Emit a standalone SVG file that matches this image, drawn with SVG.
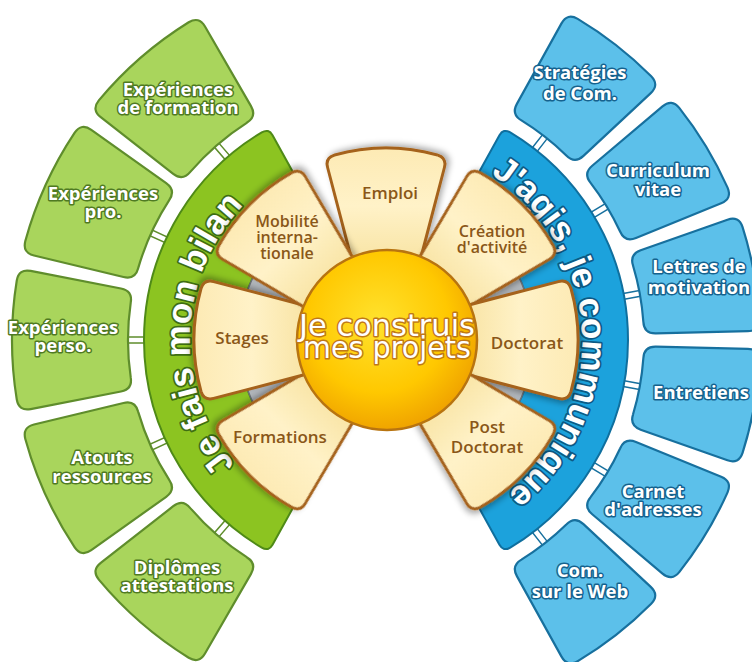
<svg xmlns="http://www.w3.org/2000/svg" width="752" height="662" viewBox="0 0 752 662">
<defs>
<style>
.gbox{fill:#a9d55c;stroke:#5f8d2c;stroke-width:2.2}
.bbox{fill:#5cc0ea;stroke:#17709e;stroke-width:2.2}
.gband{fill:#8cc421;stroke:#4f8a17;stroke-width:2}
.bband{fill:#1ca2dc;stroke:#0f6f9e;stroke-width:2}
.grey{fill:#b3b8bd;stroke:#6d7378;stroke-width:1.5}
.petal{fill:url(#gP);stroke:#a5621a;stroke-width:3;filter:url(#sh)}
.gt,.bt{font-family:"Open Sans","Liberation Sans",sans-serif;font-weight:700;font-size:18.5px;fill:#fff;stroke-width:3;paint-order:stroke;stroke-linejoin:round;text-anchor:middle}
.gt{stroke:#4f7a22}
.bt{stroke:#15628e}
.pt{font-family:"Open Sans","Liberation Sans",sans-serif;font-weight:600;font-size:17px;fill:#8a5718;text-anchor:middle}
.pts{font-size:16px}
.band-t{font-family:"Liberation Sans",Arial,sans-serif;font-weight:700;font-size:35px;fill:#fff;stroke-width:3.5;paint-order:stroke;stroke-linejoin:round}
.ct{font-family:"DejaVu Sans",sans-serif;font-size:31px;fill:#fff;stroke:#c07818;stroke-width:3;paint-order:stroke;stroke-linejoin:round;text-anchor:middle}
.tg{fill:#fff;stroke:#5f8d2c;stroke-width:1.5}
.tb{fill:#fff;stroke:#17709e;stroke-width:1.5}
</style>
<linearGradient id="gP" x1="0" y1="0" x2="1" y2="0">
<stop offset="0" stop-color="#f8e3a2"/>
<stop offset="0.5" stop-color="#fff2c8"/>
<stop offset="1" stop-color="#fdeab4"/>
</linearGradient>
<radialGradient id="gC" cx="0.45" cy="0.4" r="0.6">
<stop offset="0" stop-color="#ffe22e"/>
<stop offset="0.65" stop-color="#ffc800"/>
<stop offset="1" stop-color="#f0a400"/>
</radialGradient>
<filter id="sh" x="-20%" y="-20%" width="140%" height="140%">
<feDropShadow dx="2" dy="3" stdDeviation="3" flood-color="#000" flood-opacity="0.35"/>
</filter>
<path id="gboxS" d="M 255.28,-37.40 Q 253.26,-49.23 265.04,-51.52 L 355.35,-69.07 Q 367.13,-71.36 369.23,-59.55 A 374 374 0 0 1 369.23,59.55 Q 367.13,71.36 355.35,69.07 L 265.04,51.52 Q 253.26,49.23 255.28,37.40 A 258 258 0 0 0 255.28,-37.40 Z"/>
<path id="bboxS" d="M 256.42,-28.47 Q 254.82,-40.36 266.68,-42.24 L 357.54,-56.63 Q 369.40,-58.51 371.08,-46.63 A 374 374 0 0 1 371.08,46.63 Q 369.40,58.51 357.54,56.63 L 266.68,42.24 Q 254.82,40.36 256.42,28.47 A 258 258 0 0 0 256.42,-28.47 Z"/>
<path id="bandS" d="M 71.27,-128.57 L 113.45,-204.66 Q 117.32,-211.66 124.24,-207.67 A 242 242 0 0 1 124.24,207.67 Q 117.32,211.66 113.45,204.66 L 71.27,128.57 A 147 147 0 0 0 71.27,-128.57 Z"/>
<path id="greyS" d="M 44.60,-80.47 L 71.27,-128.57 A 147 147 0 0 1 71.27,128.57 L 44.60,80.47 A 92 92 0 0 0 44.60,-80.47 Z"/>
<path id="petalS" d="M 76.16,-33.32 L 172.40,-58.40 Q 182.08,-60.92 185.00,-51.36 A 192 192 0 0 1 185.00,51.36 Q 182.08,60.92 172.40,58.40 L 76.16,33.32 Z"/>
<path id="gArc" d="M 345.25,531.72 A 196 196 0 0 1 358.72,145.91"/>
<path id="bArc" d="M 409.89,145.46 A 196 196 0 0 1 430.09,530.98"/>
</defs>
<rect width="752" height="662" fill="#fff"/>

<g id="connectors">
<rect class="tg" x="241" y="-3" width="18" height="6" transform="translate(386 340) rotate(-131)"/>
<rect class="tg" x="241" y="-3" width="18" height="6" transform="translate(386 340) rotate(-155.5)"/>
<rect class="tg" x="241" y="-3" width="18" height="6" transform="translate(386 340) rotate(180)"/>
<rect class="tg" x="241" y="-3" width="18" height="6" transform="translate(386 340) rotate(155.5)"/>
<rect class="tg" x="241" y="-3" width="18" height="6" transform="translate(386 340) rotate(131)"/>
<rect class="tb" x="241" y="-3" width="18" height="6" transform="translate(386 340) rotate(-52)"/>
<rect class="tb" x="241" y="-3" width="18" height="6" transform="translate(386 340) rotate(-31.2)"/>
<rect class="tb" x="241" y="-3" width="18" height="6" transform="translate(386 340) rotate(-10.4)"/>
<rect class="tb" x="241" y="-3" width="18" height="6" transform="translate(386 340) rotate(10.4)"/>
<rect class="tb" x="241" y="-3" width="18" height="6" transform="translate(386 340) rotate(31.2)"/>
<rect class="tb" x="241" y="-3" width="18" height="6" transform="translate(386 340) rotate(52)"/>
</g>

<g id="node-exp-formation">
<use href="#gboxS" class="gbox" transform="translate(386 340) rotate(-131)"/>
<text class="gt" x="178" y="96">Expériences</text>
<text class="gt" x="178" y="114">de formation</text>
</g>
<g id="node-exp-pro">
<use href="#gboxS" class="gbox" transform="translate(386 340) rotate(-155.5)"/>
<text class="gt" x="103" y="200">Expériences</text>
<text class="gt" x="103" y="218">pro.</text>
</g>
<g id="node-exp-perso">
<use href="#gboxS" class="gbox" transform="translate(386 340) rotate(180)"/>
<text class="gt" x="63" y="334">Expériences</text>
<text class="gt" x="63" y="352">perso.</text>
</g>
<g id="node-atouts">
<use href="#gboxS" class="gbox" transform="translate(386 340) rotate(155.5)"/>
<text class="gt" x="102" y="464">Atouts</text>
<text class="gt" x="102" y="483">ressources</text>
</g>
<g id="node-diplomes">
<use href="#gboxS" class="gbox" transform="translate(386 340) rotate(131)"/>
<text class="gt" x="177" y="574">Diplômes</text>
<text class="gt" x="177" y="592">attestations</text>
</g>

<g id="node-strategies">
<use href="#bboxS" class="bbox" transform="translate(386 340) rotate(-52)"/>
<text class="bt" x="580" y="79">Stratégies</text>
<text class="bt" x="580" y="100">de Com.</text>
</g>
<g id="node-cv">
<use href="#bboxS" class="bbox" transform="translate(386 340) rotate(-31.2)"/>
<text class="bt" x="658" y="177">Curriculum</text>
<text class="bt" x="658" y="196">vitae</text>
</g>
<g id="node-lettres">
<use href="#bboxS" class="bbox" transform="translate(386 340) rotate(-10.4)"/>
<text class="bt" x="699" y="273">Lettres de</text>
<text class="bt" x="699" y="294">motivation</text>
</g>
<g id="node-entretiens">
<use href="#bboxS" class="bbox" transform="translate(386 340) rotate(10.4)"/>
<text class="bt" x="701" y="399">Entretiens</text>
</g>
<g id="node-carnet">
<use href="#bboxS" class="bbox" transform="translate(386 340) rotate(31.2)"/>
<text class="bt" x="653" y="498">Carnet</text>
<text class="bt" x="653" y="516">d'adresses</text>
</g>
<g id="node-web">
<use href="#bboxS" class="bbox" transform="translate(386 340) rotate(52)"/>
<text class="bt" x="580" y="577">Com.</text>
<text class="bt" x="580" y="598">sur le Web</text>
</g>

<g id="node-bilan">
<use href="#bandS" class="gband" transform="translate(386 340) rotate(180)"/>
<use href="#greyS" class="grey" transform="translate(386 340) rotate(180)"/>
<text class="band-t" stroke="#3e6e12"><textPath href="#gArc" startOffset="50%" text-anchor="middle">Je fais mon bilan</textPath></text>
</g>
<g id="node-communique">
<use href="#bandS" class="bband" transform="translate(386 340)"/>
<use href="#greyS" class="grey" transform="translate(386 340)"/>
<text class="band-t" stroke="#0c5a85"><textPath href="#bArc" startOffset="50%" text-anchor="middle">J'agis, je communique</textPath></text>
</g>

<g id="node-emploi">
<use href="#petalS" class="petal" transform="translate(386 340) rotate(-90)"/>
<text class="pt" x="390" y="199">Emploi</text>
</g>
<g id="node-creation">
<use href="#petalS" class="petal" transform="translate(386 340) rotate(-45)"/>
<text class="pt pts" x="492" y="237">Création</text>
<text class="pt pts" x="492" y="253">d'activité</text>
</g>
<g id="node-doctorat">
<use href="#petalS" class="petal" transform="translate(386 340)"/>
<text class="pt" x="527" y="349">Doctorat</text>
</g>
<g id="node-postdoc">
<use href="#petalS" class="petal" transform="translate(386 340) rotate(45)"/>
<text class="pt" x="487" y="433">Post</text>
<text class="pt" x="487" y="453">Doctorat</text>
</g>
<g id="node-formations">
<use href="#petalS" class="petal" transform="translate(386 340) rotate(135)"/>
<text class="pt" x="280" y="443">Formations</text>
</g>
<g id="node-stages">
<use href="#petalS" class="petal" transform="translate(386 340) rotate(180)"/>
<text class="pt" x="242" y="344">Stages</text>
</g>
<g id="node-mobilite">
<use href="#petalS" class="petal" transform="translate(386 340) rotate(-135)"/>
<text class="pt pts" x="287" y="227">Mobilité</text>
<text class="pt pts" x="287" y="243">interna-</text>
<text class="pt pts" x="287" y="259">tionale</text>
</g>

<g id="node-center">
<circle cx="387" cy="340" r="90" fill="url(#gC)" stroke="#b87410" stroke-width="2.5"/>
<text class="ct" x="387" y="336" textLength="176" lengthAdjust="spacingAndGlyphs">Je construis</text>
<text class="ct" x="387" y="358" textLength="168" lengthAdjust="spacingAndGlyphs">mes projets</text>
</g>
</svg>
